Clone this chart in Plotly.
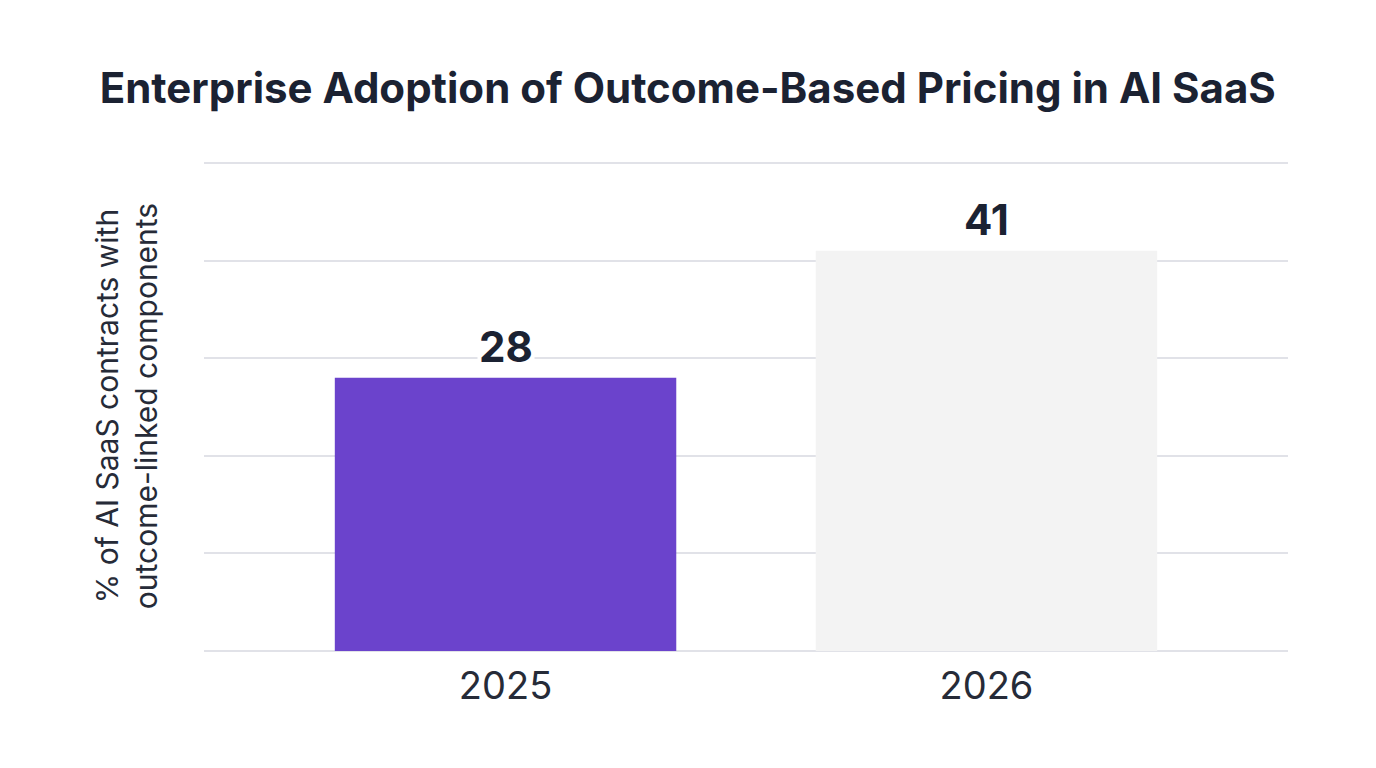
import plotly.graph_objects as go

years = ["2025", "2026"]
shares = [28, 41]
bar_colors = ["#6B43CC", "#F3F3F3"]

title = "Enterprise Adoption of Outcome-Based Pricing in AI SaaS"
y_title = "% of AI SaaS contracts with<br>outcome-linked components"

fig = go.Figure()
fig.add_trace(go.Bar(x=years, y=shares, marker_color=bar_colors,
                     marker_line_width=0, hoverinfo="x+y"))

# value labels sit on a white box so they hide the gridline behind them
for i, val in enumerate(shares):
    fig.add_annotation(x=i, y=val, text=f"<b>{val}</b>", showarrow=False,
                       yanchor="bottom", yshift=4, bgcolor="white",
                       font=dict(family="Inter", size=42, color="#1B2232"))

fig.update_layout(
    width=1376, height=768,
    paper_bgcolor="white", plot_bgcolor="white",
    margin=dict(l=196, r=96, t=153, b=125),
    title=dict(text=f"<b>{title}</b>", x=0.494, xanchor="center",
               y=1 - 80 / 768, yanchor="middle",
               font=dict(family="Inter", size=42, color="#1B2232")),
    font=dict(family="Inter", color="#1B2232"),
    bargap=0.29,
    showlegend=False,
)
fig.update_xaxes(type="category", range=[-0.627, 1.627], showline=False,
                 ticks="", ticklabelstandoff=9,
                 tickfont=dict(size=38, color="#262B38"))
fig.update_yaxes(range=[0, 50.2], dtick=10, showticklabels=False,
                 gridcolor="#E1E2E8", gridwidth=1.5, zeroline=True,
                 zerolinecolor="#E1E2E8", zerolinewidth=1.5,
                 title=dict(text=y_title, standoff=36,
                            font=dict(size=30, color="#262B38")))

fig.write_html("out.html")
